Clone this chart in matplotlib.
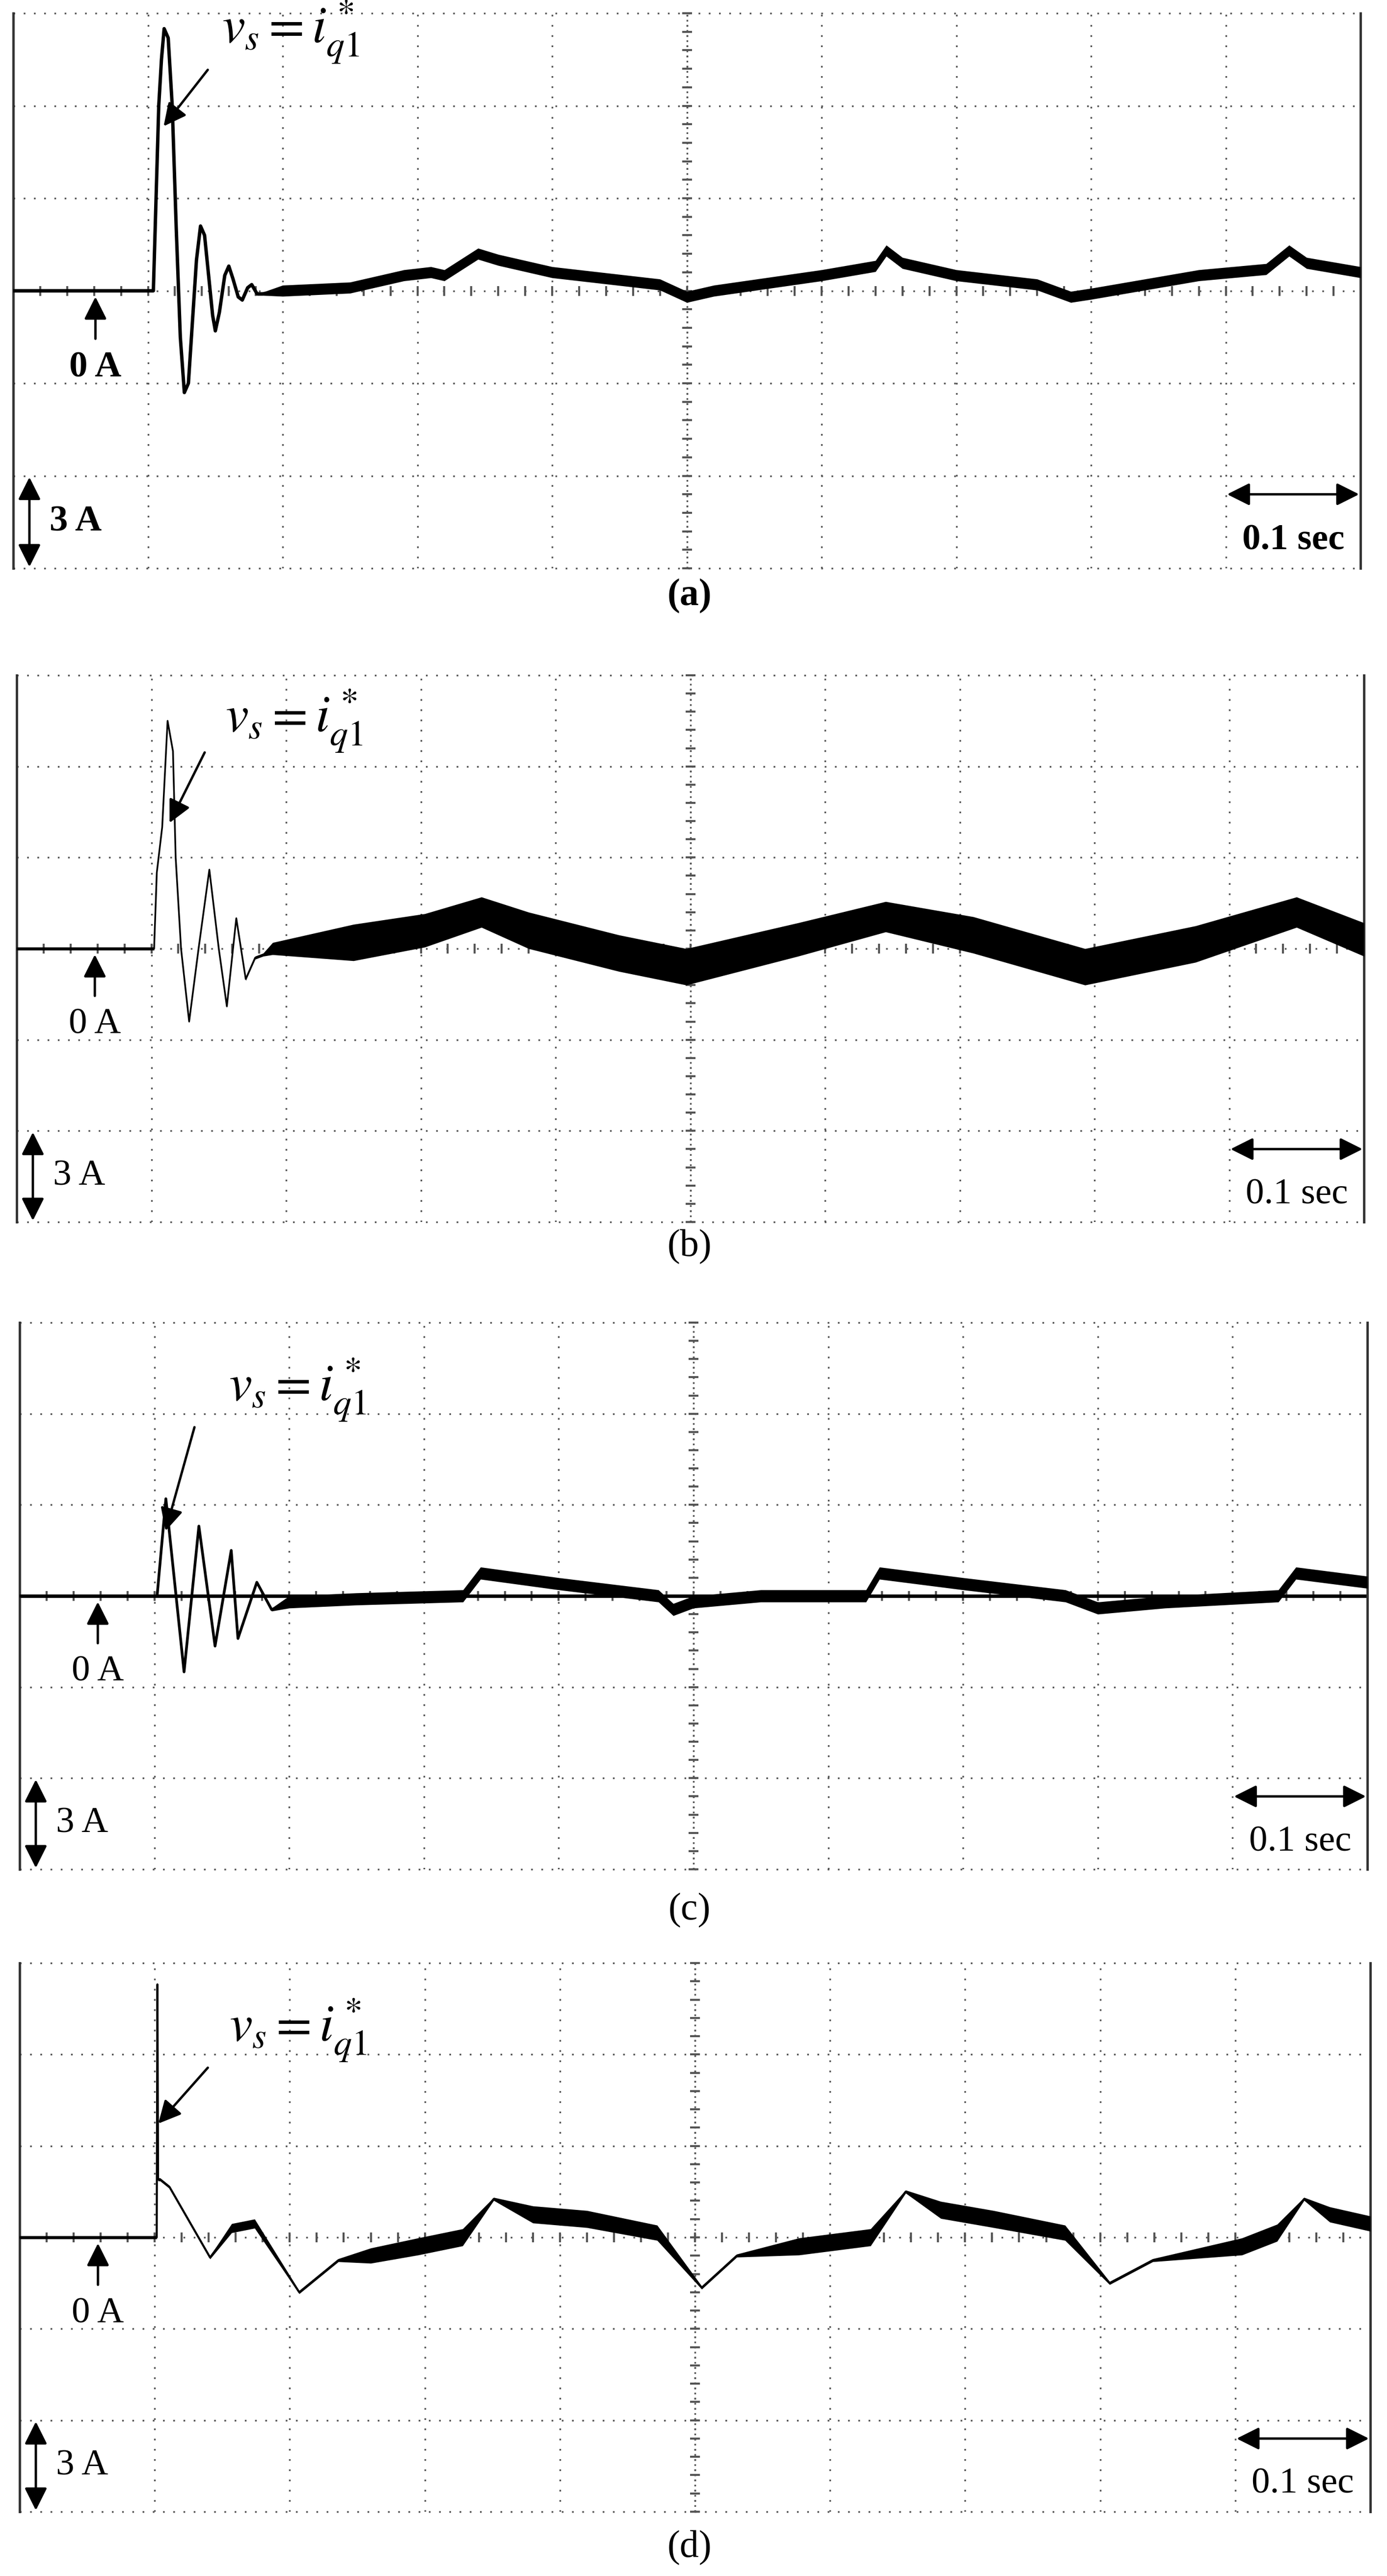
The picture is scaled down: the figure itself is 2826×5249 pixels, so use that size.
import numpy as np
import matplotlib
matplotlib.use("Agg")
import matplotlib.pyplot as plt

plt.rcParams['mathtext.fontset'] = 'stix'
plt.rcParams['font.family'] = ['Liberation Serif', 'DejaVu Serif']

# time in seconds (0.1 s/div), current in A (3 A/div)
a_t = [0, 0.104, 0.106, 0.108, 0.110, 0.112, 0.115, 0.118, 0.121, 0.124, 0.127, 0.130, 0.133, 0.136,
       0.139, 0.142, 0.145, 0.148, 0.150, 0.153, 0.157, 0.160, 0.163, 0.167, 0.170, 0.174, 0.177, 0.181,
       0.185, 0.20, 0.25, 0.29, 0.31, 0.32, 0.345, 0.36, 0.40, 0.45, 0.48, 0.50, 0.52, 0.60, 0.64,
       0.648, 0.66, 0.70, 0.76, 0.785, 0.80, 0.88, 0.93, 0.947, 0.96, 1.0]
a_i = [0, 0, 3, 6, 7.5, 8.5, 8.2, 6, 2, -1.5, -3.3, -3.0, -1, 1, 2.1, 1.8, 0.5, -0.8, -1.3, -0.7,
       0.5, 0.8, 0.4, -0.2, -0.3, 0.1, 0.2, -0.1, -0.1, 0, 0.1, 0.5, 0.6, 0.5, 1.2, 1.0, 0.6, 0.35,
       0.2, -0.2, 0, 0.5, 0.8, 1.3, 0.9, 0.5, 0.2, -0.2, -0.1, 0.5, 0.7, 1.3, 0.9, 0.6]
a_hw = [0.05] * 29 + [0.18] * 25

b_t = [0, 0.102, 0.104, 0.108, 0.112, 0.116, 0.118, 0.122, 0.128, 0.135, 0.143, 0.150, 0.156, 0.163,
       0.170, 0.177, 0.183, 0.19, 0.25, 0.303, 0.345, 0.38, 0.447, 0.497, 0.58, 0.645, 0.71, 0.793,
       0.875, 0.95, 1.0]
b_i = [0, 0, 2.5, 4.0, 7.5, 6.5, 3.0, 0, -2.4, 0, 2.6, 0, -1.9, 1.0, -1.0, -0.3, -0.2, 0, 0.2,
       0.6, 1.2, 0.6, -0.15, -0.6, 0.3, 1.05, 0.45, -0.6, 0.15, 1.2, 0.3]
b_hw = [0.05] * 17 + [0.2, 0.6, 0.55, 0.5, 0.6, 0.6, 0.6, 0.55, 0.5, 0.6, 0.6, 0.6, 0.5, 0.55]

c_t = [0, 0.102, 0.1085, 0.122, 0.133, 0.145, 0.157, 0.162, 0.176, 0.187, 0.20, 0.25, 0.329, 0.342,
       0.40, 0.474, 0.485, 0.50, 0.55, 0.628, 0.638, 0.70, 0.776, 0.80, 0.85, 0.934, 0.947, 1.0]
c_i = [0, 0, 3.2, -2.5, 2.3, -1.65, 1.5, -1.4, 0.45, -0.45, -0.2, -0.1, 0, 0.75, 0.4, 0.0, -0.45,
       -0.2, 0, 0.0, 0.75, 0.4, 0.0, -0.4, -0.2, 0.0, 0.75, 0.45]
c_hw = [0.05] * 10 + [0.2] * 18

d_t = [0, 0.1015, 0.102, 0.1025, 0.104, 0.111, 0.141, 0.157, 0.174, 0.207, 0.236, 0.26, 0.295,
       0.328, 0.351, 0.38, 0.42, 0.472, 0.505, 0.531, 0.577, 0.63, 0.656, 0.682, 0.721, 0.774,
       0.807, 0.839, 0.905, 0.931, 0.951, 0.97, 1.0]
d_i = [0, 0, 8.3, 1.9, 1.9, 1.65, -0.66, 0.3, 0.45, -1.8, -0.75, -0.6, -0.3, 0, 1.26, 0.75, 0.6,
       0.15, -1.65, -0.6, -0.3, 0, 1.5, 0.9, 0.6, 0.15, -1.5, -0.75, -0.3, 0.15, 1.26, 0.75, 0.45]
d_hw = [0.05, 0.05, 0.05, 0.05, 0.05, 0.05, 0.05, 0.15, 0.15, 0.05, 0.05, 0.25, 0.28, 0.28, 0.05,
        0.28, 0.28, 0.25, 0.05, 0.05, 0.28, 0.28, 0.05, 0.28, 0.28, 0.25, 0.05, 0.05, 0.28, 0.28, 0.05,
        0.25, 0.25]

panels = [
    dict(t=a_t, i=a_i, hw=a_hw, rect=[27, 27, 2772, 1158], lab='(a)', laby=1215, lw=5,
         ann=(0.155, 8.4, 0.145, 7.2, 0.111, 5.3), zero_x=0.061, bold=True, zline=False),
    dict(t=b_t, i=b_i, hw=b_hw, rect=[34, 1376, 2779, 2490], lab='(b)', laby=2541, lw=2.5,
         ann=(0.155, 7.5, 0.14, 6.5, 0.113, 4.1), zero_x=0.058, bold=False, zline=False),
    dict(t=c_t, i=c_i, hw=c_hw, rect=[40, 2695, 2786, 3809], lab='(c)', laby=3893, lw=4,
         ann=(0.155, 6.8, 0.13, 5.6, 0.108, 2.1), zero_x=0.058, bold=False, zline=True),
    dict(t=d_t, i=d_i, hw=d_hw, rect=[40, 4000, 2792, 5118], lab='(d)', laby=5192, lw=3,
         ann=(0.155, 6.8, 0.14, 5.6, 0.102, 3.7), zero_x=0.058, bold=False, zline=False),
]

W, H = 2826, 5249
fig = plt.figure(figsize=(W / 100, H / 100), dpi=100)
grid_c = '#555555'
for p in panels:
    x0, y0, x1, y1 = p['rect']
    ax = fig.add_axes([x0 / W, 1 - y1 / H, (x1 - x0) / W, (y1 - y0) / H])
    ax.set_xlim(0, 1.0)
    ax.set_ylim(-9, 9)
    ax.set_xticks([]); ax.set_yticks([])
    for s in ['top', 'bottom']:
        ax.spines[s].set_visible(False)
    for s in ['left', 'right']:
        ax.spines[s].set_linewidth(3.5)
        ax.spines[s].set_color('#333333')
    for xv in np.arange(0.1, 1.0, 0.1):
        ax.axvline(xv, color=grid_c, lw=2.5, ls=(0, (1, 5)), zorder=1)
    for yv in [-9, -6, -3, 0, 3, 6, 9]:
        ax.axhline(yv, color=grid_c, lw=2.5, ls=(0, (1, 5)), zorder=1, clip_on=False)
    ax.axvline(0.5, color=grid_c, lw=2.5, ls=(0, (1, 2)), zorder=1)
    ticks_y = np.arange(-9, 9.01, 0.6)
    ax.plot([0.5] * len(ticks_y), ticks_y, ls='none', marker='_', ms=14, mew=3, color=grid_c,
            clip_on=False, zorder=1)
    ticks_x = np.arange(0.02, 1.0, 0.02)
    ax.plot(ticks_x, [0] * len(ticks_x), ls='none', marker='|', ms=14, mew=3, color=grid_c, zorder=1)
    if p['zline']:
        ax.axhline(0, color='black', lw=5, zorder=2)
    t = np.array(p['t']); i = np.array(p['i']); hw = np.array(p['hw'])
    ax.fill_between(t, i - hw, i + hw, color='black', lw=0, zorder=3)
    ax.plot(t, i, color='black', lw=p['lw'], zorder=4)
    fw = 'bold' if p['bold'] else 'normal'
    # 0 A arrow
    ax.annotate('', xy=(p['zero_x'], -0.15), xytext=(p['zero_x'], -1.6),
                arrowprops=dict(arrowstyle='-|>', color='black', lw=3.5, mutation_scale=70))
    ax.text(p['zero_x'], -2.5, '0 A', ha='center', va='center', fontsize=54, fontweight=fw)
    # 3 A arrow
    ax.annotate('', xy=(0.012, -6.0), xytext=(0.012, -9.0),
                arrowprops=dict(arrowstyle='<|-|>', color='black', lw=3.5, mutation_scale=70),
                annotation_clip=False)
    ax.text(0.027, -7.5, '3 A', ha='left', va='center', fontsize=54, fontweight=fw)
    # 0.1 sec arrow
    ax.annotate('', xy=(0.9, -6.6), xytext=(1.0, -6.6),
                arrowprops=dict(arrowstyle='<|-|>', color='black', lw=3.5, mutation_scale=70),
                annotation_clip=False)
    ax.text(0.95, -8.1, '0.1 sec', ha='center', va='center', fontsize=54, fontweight=fw)
    # v_s label
    lx, ly, tx, ty, hx, hy = p['ann']
    ax.text(lx, ly, r'$v_s = i^*_{q1}$', ha='left', va='center', fontsize=76)
    ax.annotate('', xy=(hx, hy), xytext=(tx, ty),
                arrowprops=dict(arrowstyle='-|>', color='black', lw=3.5, mutation_scale=70))
    fig.text(0.497, 1 - p['laby'] / H, p['lab'], ha='center', va='center', fontsize=56,
             fontweight='bold' if p['bold'] else 'normal')

fig.savefig('out.png', dpi=100)
